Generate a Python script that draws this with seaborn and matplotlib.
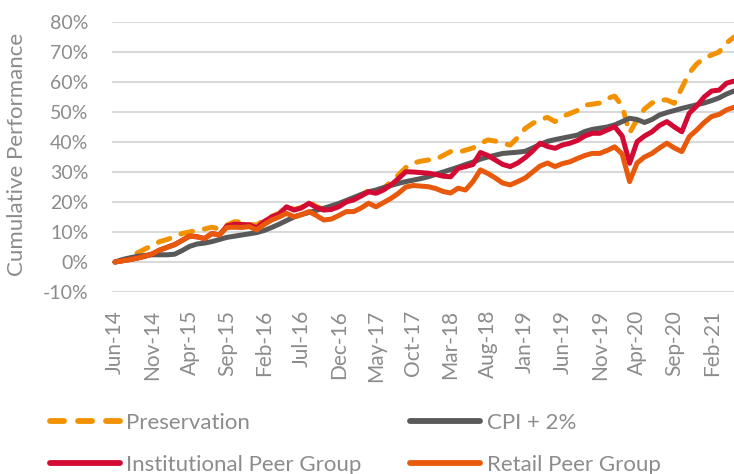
import numpy as np
import pandas as pd
import seaborn as sns
import matplotlib.pyplot as plt
from matplotlib.lines import Line2D

# monthly points, Jun-14 .. May-21
months = pd.date_range('2014-06-01', periods=84, freq='MS')

preservation = [
    0.0, 0.5, 1.5, 3.0, 4.3, 5.5, 6.8, 7.5, 8.5, 9.5, 10.0, 10.5,
    11.0, 11.6, 11.0, 12.3, 13.4, 13.4, 12.5, 12.3, 14.0, 15.2, 16.2, 18.6,
    17.5, 18.2, 20.0, 18.5, 17.6, 17.8, 18.8, 20.3, 21.0, 22.3, 23.8, 23.5,
    24.5, 26.8, 29.0, 31.5, 33.0, 33.6, 34.0, 34.2, 35.5, 36.8, 36.5, 37.3,
    38.0, 39.5, 40.7, 40.3, 39.5, 39.0, 41.5, 44.5, 46.2, 47.5, 48.2, 46.8,
    48.5, 49.5, 50.5, 52.3, 52.6, 53.0, 54.5, 55.3, 52.0, 43.0, 47.5, 51.0,
    53.0, 54.0, 54.0, 52.9, 58.0, 63.0, 66.0, 68.0, 69.0, 70.0, 73.0, 75.0,
]
cpi = [
    0.0, 0.8, 1.4, 1.9, 2.2, 2.4, 2.4, 2.4, 2.6, 3.8, 5.2, 6.0,
    6.3, 6.8, 7.5, 8.2, 8.6, 9.0, 9.4, 9.8, 10.5, 11.5, 12.6, 13.8,
    15.0, 15.8, 16.5, 17.2, 17.9, 18.7, 19.5, 20.5, 21.5, 22.5, 23.4, 24.0,
    24.8, 25.5, 26.2, 26.8, 27.3, 27.8, 28.4, 29.2, 30.0, 30.8, 31.6, 32.5,
    33.3, 34.3, 35.0, 35.6, 36.2, 36.4, 36.6, 36.9, 38.0, 39.2, 40.2, 40.8,
    41.3, 41.8, 42.3, 43.5, 44.2, 44.6, 45.0, 45.7, 46.8, 47.9, 47.5, 46.5,
    47.5, 49.0, 49.8, 50.5, 51.2, 51.8, 52.4, 53.0, 53.8, 54.7, 56.0, 57.0,
]
institutional = [
    0.0, 0.4, 0.8, 1.3, 1.9, 2.7, 4.0, 4.9, 5.8, 7.2, 8.6, 8.4,
    7.8, 9.5, 9.0, 12.0, 12.6, 12.5, 12.4, 11.4, 13.5, 15.0, 16.0, 18.4,
    17.3, 18.0, 19.6, 18.2, 17.3, 17.5, 18.4, 20.0, 20.7, 22.0, 23.4, 22.9,
    24.0, 25.7, 27.8, 30.1, 30.0, 29.8, 29.6, 29.2, 28.6, 28.4, 31.2, 31.8,
    32.5, 36.5, 35.5, 34.0, 32.5, 31.8, 33.0, 34.8, 37.0, 39.6, 38.5, 37.9,
    39.0, 39.6, 40.5, 42.0, 42.9, 42.9, 44.0, 45.1, 42.0, 32.9, 40.1, 42.0,
    43.4, 45.5, 46.8, 45.0, 43.4, 49.6, 52.0, 55.0, 57.0, 57.3, 59.6, 60.3,
]
retail = [
    0.0, 0.4, 0.8, 1.3, 1.9, 2.7, 4.0, 4.9, 5.8, 7.2, 8.6, 8.4,
    7.8, 9.5, 9.0, 11.5, 11.6, 11.5, 11.8, 10.7, 12.5, 14.0, 15.0, 16.2,
    15.1, 15.8, 16.8, 15.5, 14.0, 14.3, 15.5, 16.8, 16.8, 18.0, 19.6, 18.4,
    19.8, 21.2, 22.9, 25.0, 25.5, 25.3, 25.1, 24.5, 23.5, 23.0, 24.6, 24.0,
    26.8, 30.7, 29.5, 28.0, 26.3, 25.7, 26.8, 28.0, 30.0, 32.0, 33.0, 31.8,
    32.8, 33.4, 34.5, 35.5, 36.2, 36.2, 37.2, 38.4, 36.0, 26.8, 33.0, 35.0,
    36.2, 38.0, 39.6, 38.0, 36.8, 41.8, 44.0, 46.5, 48.5, 49.2, 50.7, 51.6,
]

series_names = ['Preservation', 'CPI + 2%', 'Institutional Peer Group', 'Retail Peer Group']
colors = ['#F39200', '#595959', '#D20A34', '#E8590C']

df = pd.DataFrame({'Month': np.arange(len(months)),
                   'Preservation': preservation,
                   'CPI + 2%': cpi,
                   'Institutional Peer Group': institutional,
                   'Retail Peer Group': retail})
long = df.melt(id_vars='Month', var_name='Series', value_name='Value')

sns.set_theme(style='white')
plt.rcParams['font.family'] = ['Lato', 'DejaVu Sans']

fig = plt.figure(figsize=(7.34, 4.74), dpi=100)
ax = fig.add_axes([112 / 734, 1 - 292 / 474, 622 / 734, 270 / 474])

palette = dict(zip(series_names, colors))
dashes = {'Preservation': (2.4, 2.4), 'CPI + 2%': '',
          'Institutional Peer Group': '', 'Retail Peer Group': ''}
sns.lineplot(data=long, x='Month', y='Value', hue='Series', style='Series',
             hue_order=series_names, style_order=series_names,
             palette=palette, dashes=dashes, linewidth=3.6, ax=ax, legend=False)
for ln in ax.get_lines():
    ln.set_dash_capstyle('round')
    ln.set_solid_capstyle('round')
    ln.set_solid_joinstyle('round')

grey = '#8C8C8C'
ax.set_ylim(-10, 80)
ax.set_xlim(-0.4, 83)
yt = list(range(-10, 90, 10))
ax.set_yticks(yt)
ax.set_yticklabels([f'{v}%' for v in yt])
xt = list(range(0, 84, 5))
ax.set_xticks(xt)
ax.set_xticklabels([months[i].strftime('%b-%y') for i in xt], rotation=90)
ax.tick_params(axis='y', length=0, pad=17, labelsize=14, labelcolor=grey)
ax.tick_params(axis='x', length=0, pad=13, labelsize=15, labelcolor=grey)
ax.grid(axis='y', color='#D9D9D9', linewidth=1.5)
ax.grid(axis='x', visible=False)
for s in ax.spines.values():
    s.set_visible(False)
ax.set_xlabel('')
ax.set_ylabel('Cumulative Performance', fontsize=16, color=grey)
ax.yaxis.set_label_coords(-0.137, 0.509)

handles = {}
for name, c in zip(series_names, colors):
    if name == 'Preservation':
        h = Line2D([], [], color=c, lw=4.2, dashes=(2.4, 2.4), dash_capstyle='round')
    else:
        h = Line2D([], [], color=c, lw=4.2, solid_capstyle='round')
    handles[name] = h
order = ['Preservation', 'Institutional Peer Group', 'CPI + 2%', 'Retail Peer Group']
leg = fig.legend([handles[n] for n in order], order, ncol=2, frameon=False,
                 loc='upper left', bbox_to_anchor=(50 / 734, 1 - 413 / 474),
                 fontsize=16, handlelength=3.15, handletextpad=0.28,
                 columnspacing=2.2, labelspacing=0.98, borderpad=0, borderaxespad=0)
for t in leg.get_texts():
    t.set_color(grey)

fig.savefig('out.png', dpi=100)
